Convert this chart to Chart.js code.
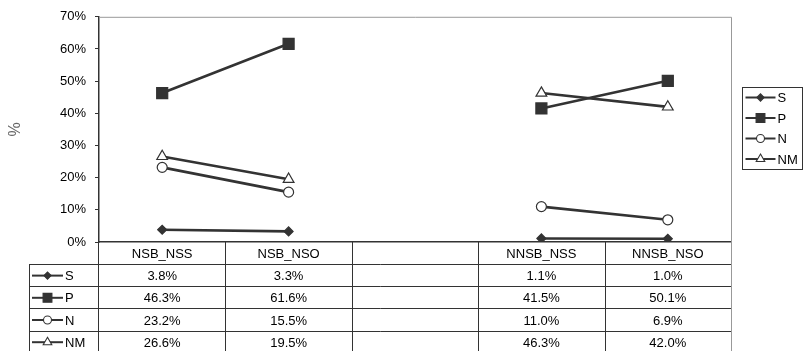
<!DOCTYPE html>
<html>
<head>
<meta charset="utf-8">
<script src="https://cdn.jsdelivr.net/npm/chart.js@4.4.1/dist/chart.umd.min.js"></script>
<style>
  body { margin: 0; background: #fff; }
  canvas { display: block; }
</style>
</head>
<body>
<canvas id="chart" width="807" height="351"></canvas>
<script>
// categories (the empty one keeps a gap between the two groups)
const categories = ["NSB_NSS", "NSB_NSO", "", "NNSB_NSS", "NNSB_NSO"];
const seriesNames = ["S", "P", "N", "NM"];
const sValues  = [3.8, 3.3, null, 1.1, 1.0];
const pValues  = [46.3, 61.6, null, 41.5, 50.1];
const nValues  = [23.2, 15.5, null, 11.0, 6.9];
const nmValues = [26.6, 19.5, null, 46.3, 42.0];
const yTicks = [0, 10, 20, 30, 40, 50, 60, 70];

const dark = "#333333";
const FONT = "Liberation Sans, Arial, sans-serif";

// marker look per series: [pointStyle, radius, fill]
const markers = [
  ["rectRot", 4.5, dark],
  ["rect", 7.8, dark],
  ["circle", 5, "#ffffff"],
  ["triangle", 6.2, "#ffffff"]
];
const allValues = [sValues, pValues, nValues, nmValues];

const datasets = seriesNames.map((name, i) => ({
  label: name,
  data: allValues[i],
  borderColor: dark,
  borderWidth: 2.6,
  pointStyle: markers[i][0],
  pointRadius: markers[i][1],
  pointBackgroundColor: markers[i][2],
  pointBorderColor: dark,
  pointBorderWidth: 1.2,
  spanGaps: false
}));

// small line + marker sample, used in the legend and the table
function drawSample(ctx, i, x1, x2, y, scale) {
  ctx.save();
  ctx.strokeStyle = dark;
  ctx.lineWidth = 2;
  ctx.beginPath();
  ctx.moveTo(x1, y);
  ctx.lineTo(x2, y);
  ctx.stroke();
  ctx.fillStyle = markers[i][2];
  ctx.lineWidth = 1.1;
  Chart.helpers.drawPoint(ctx, {
    pointStyle: markers[i][0],
    radius: markers[i][1] * scale,
    rotation: 0,
    borderWidth: 1.1
  }, (x1 + x2) / 2, y);
  ctx.restore();
}

const tablePlugin = {
  id: "dataTable",
  afterDraw(chart) {
    const ctx = chart.ctx;
    const area = chart.chartArea;
    const x = chart.scales.x;
    const half = (x.getPixelForValue(1) - x.getPixelForValue(0)) / 2;
    const rowH = 22.2;
    const headTop = area.bottom;
    const firstRow = headTop + 22;
    const labelLeft = 29.5;
    const bottom = chart.height;

    ctx.save();
    // frame: top and right in grey
    ctx.strokeStyle = "#999999";
    ctx.lineWidth = 1;
    ctx.beginPath();
    ctx.moveTo(area.left, area.top + 0.5);
    ctx.lineTo(area.right + 0.5, area.top + 0.5);
    ctx.lineTo(area.right + 0.5, bottom);
    ctx.stroke();

    // table grid
    ctx.strokeStyle = dark;
    ctx.beginPath();
    for (let c = 0; c < categories.length - 1; c++) {
      const ex = Math.round(x.getPixelForValue(c) + half) + 0.5;
      ctx.moveTo(ex, headTop);
      ctx.lineTo(ex, bottom);
    }
    ctx.moveTo(Math.round(area.left) - 0.5, headTop);
    ctx.lineTo(Math.round(area.left) - 0.5, bottom);
    ctx.moveTo(labelLeft, firstRow);
    ctx.lineTo(labelLeft, bottom);
    for (let r = 0; r < seriesNames.length; r++) {
      const ry = Math.round(firstRow + r * rowH) + 0.5;
      ctx.moveTo(labelLeft, ry);
      ctx.lineTo(area.right, ry);
    }
    ctx.stroke();

    // row labels and values
    ctx.font = "13px " + FONT;
    ctx.fillStyle = "#000";
    ctx.textBaseline = "middle";
    for (let r = 0; r < seriesNames.length; r++) {
      const cy = firstRow + r * rowH + rowH / 2 + 0.5;
      drawSample(ctx, r, 32, 63, cy, 0.8);
      ctx.textAlign = "left";
      ctx.fillText(seriesNames[r], 65, cy + 1);
      ctx.textAlign = "center";
      allValues[r].forEach((v, c) => {
        if (v === null) return;
        ctx.fillText(v.toFixed(1) + "%", x.getPixelForValue(c), cy + 1);
      });
    }

    // legend box at the right
    const lx = 742.5, ly = 87.5, lw = 60, lh = 82;
    ctx.strokeStyle = dark;
    ctx.strokeRect(lx, ly, lw, lh);
    for (let r = 0; r < seriesNames.length; r++) {
      const cy = ly + 10 + r * 20.5;
      drawSample(ctx, r, lx + 3, lx + 33, cy, 0.8);
      ctx.fillStyle = "#000";
      ctx.textAlign = "left";
      ctx.fillText(seriesNames[r], lx + 35, cy + 1);
    }
    ctx.restore();
  }
};

new Chart(document.getElementById("chart"), {
  type: "line",
  data: { labels: categories, datasets: datasets },
  options: {
    responsive: false,
    animation: false,
    layout: { padding: { top: 15, right: 76, left: 0, bottom: 0 } },
    plugins: { legend: { display: false }, tooltip: { enabled: false } },
    scales: {
      x: {
        offset: true,
        grid: { display: false, drawTicks: false, offset: true },
        border: { display: true, color: dark, width: 1.5 },
        ticks: { color: "#000", font: { family: FONT, size: 13 }, padding: 5, maxRotation: 0, autoSkip: false },
        afterFit(scale) { scale.height = 351 - 242; }
      },
      y: {
        min: yTicks[0],
        max: yTicks[yTicks.length - 1],
        afterBuildTicks(scale) { scale.ticks = yTicks.map(v => ({ value: v })); },
        grid: { drawOnChartArea: false, drawTicks: true, tickLength: 4, color: dark },
        border: { display: true, color: dark, width: 1.5 },
        ticks: {
          color: "#000",
          font: { family: FONT, size: 13 },
          padding: 9,
          callback: v => v + "%"
        },
        title: { display: true, text: "%", color: "#666", font: { family: FONT, size: 16 }, padding: { top: 6, bottom: 0 } },
        afterFit(scale) { scale.width = 99; }
      }
    }
  },
  plugins: [tablePlugin]
});
</script>
</body>
</html>
